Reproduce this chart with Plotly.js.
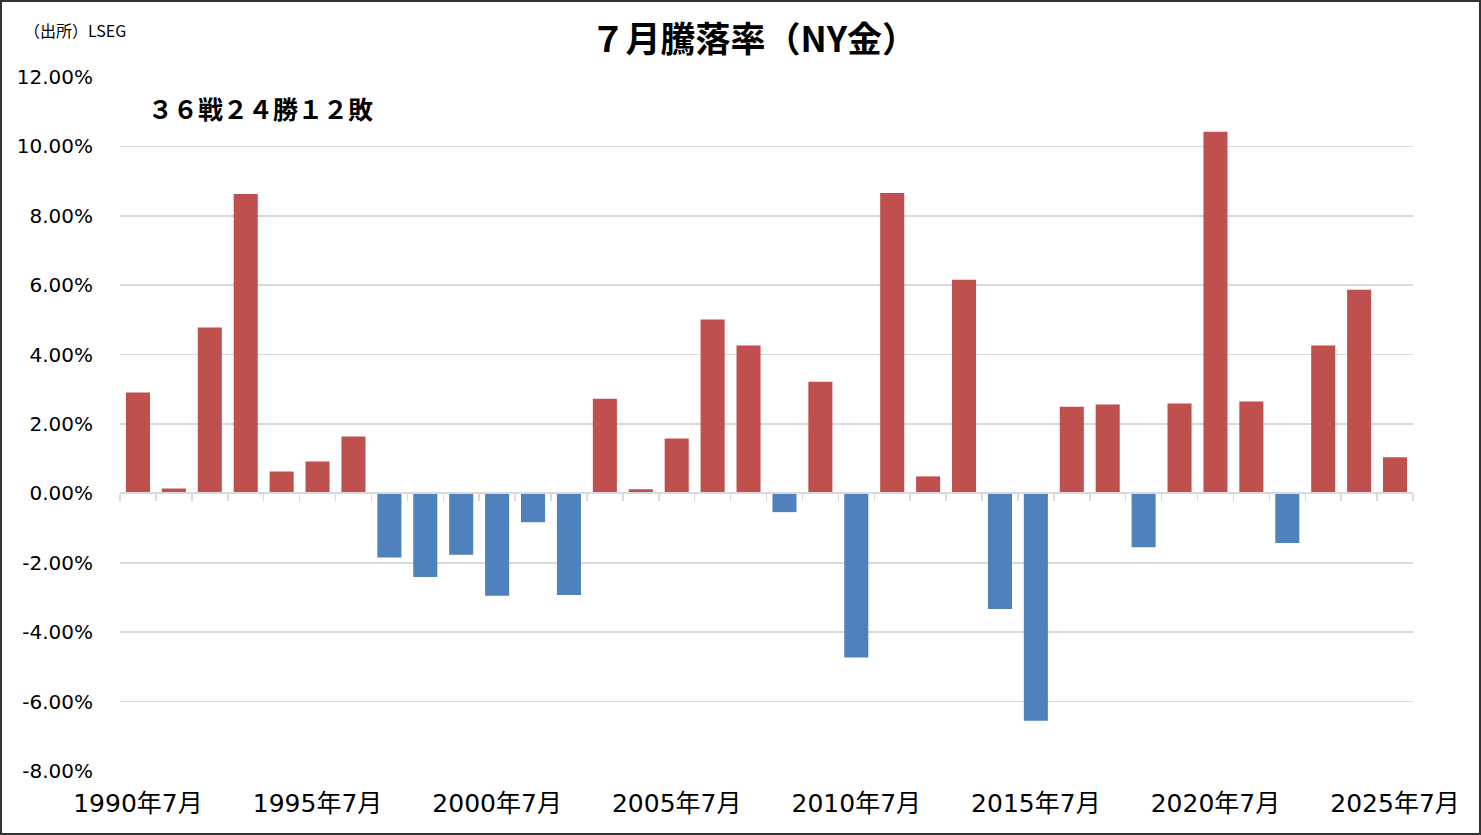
<!DOCTYPE html>
<html><head><meta charset="utf-8">
<script src="https://cdn.plot.ly/plotly-3.0.1.min.js"></script>
<style>
html,body{margin:0;padding:0;background:#fff;}
#wrap{position:relative;width:1481px;height:835px;}
#chart{width:1481px;height:835px;}
#frame{position:absolute;left:0;top:0;width:1481px;height:835px;box-sizing:border-box;border:2px solid #333;pointer-events:none;}
</style></head>
<body>
<div id="wrap"><div id="chart"></div><div id="frame"></div></div>
<script>
const years = [1990,1991,1992,1993,1994,1995,1996,1997,1998,1999,2000,2001,2002,2003,2004,2005,2006,2007,2008,2009,2010,2011,2012,2013,2014,2015,2016,2017,2018,2019,2020,2021,2022,2023,2024,2025];
const returns = [2.91,0.14,4.78,8.63,0.63,0.92,1.64,-1.85,-2.41,-1.77,-2.95,-0.83,-2.93,2.73,0.12,1.58,5.01,4.26,-0.54,3.22,-4.73,8.66,0.49,6.16,-3.33,-6.55,2.50,2.56,-1.55,2.59,10.42,2.65,-1.43,4.26,5.87,1.04];
const labelYears = [1990,1995,2000,2005,2010,2015,2020,2025];
const categories = years.map(y => y + '年7月');
const labelCats = labelYears.map(y => y + '年7月');
const yTicks = [-8,-6,-4,-2,0,2,4,6,8,10,12];
const yTickText = yTicks.map(v => v.toFixed(2) + '%');
const chartTitle = '７月騰落率（NY金）';
const sourceText = '（出所）LSEG';
const recordText = '３６戦２４勝１２敗';

const RED = '#C0504D', BLUE = '#4F81BD';
const CJK = '"Noto Sans CJK JP", sans-serif';
const NUM = '"DejaVu Sans", "Noto Sans CJK JP", sans-serif';

const bars = {
  type: 'bar', x: categories, y: returns, xaxis: 'x', yaxis: 'y',
  marker: {color: returns.map(v => v >= 0 ? RED : BLUE), line: {width: 0}},
  hoverinfo: 'x+y'
};
const tickHelper = {
  type: 'scatter', mode: 'none', x: categories, y: returns, xaxis: 'x2', yaxis: 'y',
  hoverinfo: 'skip', showlegend: false
};

const layout = {
  width: 1481, height: 835,
  margin: {l: 120, r: 68, t: 77, b: 64},
  paper_bgcolor: '#fff', plot_bgcolor: '#fff',
  showlegend: false, bargap: 0.33,
  font: {family: CJK, color: '#000'},
  title: {text: chartTitle, font: {family: CJK, size: 35, color: '#000', weight: 'bold'},
          x: 0.509, xanchor: 'center', y: 0.952, yanchor: 'middle'},
  xaxis: {
    type: 'category', categoryorder: 'array', categoryarray: categories,
    range: [-0.5, 35.5], tickmode: 'array', tickvals: labelCats, ticktext: labelCats,
    showgrid: false, showline: false, zeroline: false, ticks: '',
    tickfont: {family: NUM, size: 25, color: '#000'}, ticklabelstandoff: 15,
    fixedrange: true
  },
  xaxis2: {
    type: 'category', categoryorder: 'array', categoryarray: categories,
    range: [-0.5, 35.5], overlaying: 'x', anchor: 'free', position: 0.4,
    showticklabels: false, showgrid: false, zeroline: false,
    showline: true, linecolor: '#d9d9d9', linewidth: 2,
    ticks: 'outside', tickson: 'boundaries', ticklen: 7, tickcolor: '#d9d9d9', tickwidth: 1.5
  },
  yaxis: {
    range: [-8, 12], tickmode: 'array', tickvals: yTicks, ticktext: yTickText,
    showgrid: true, gridcolor: '#d9d9d9', gridwidth: 1.5, zeroline: false,
    showline: false, ticks: '',
    tickfont: {family: NUM, size: 20, color: '#000'}, ticklabelstandoff: 26,
    fixedrange: true
  },
  annotations: [
    {text: sourceText, xref: 'paper', yref: 'paper', x: -0.076, y: 1.068, xanchor: 'left', yanchor: 'middle',
     showarrow: false, font: {family: CJK, size: 16, color: '#000'}},
    {text: recordText, xref: 'paper', yref: 'paper', x: 0.02, y: 0.955, xanchor: 'left', yanchor: 'middle',
     showarrow: false, font: {family: CJK, size: 25, color: '#000', weight: 'bold'}}
  ]
};
Plotly.newPlot('chart', [bars, tickHelper], layout, {displayModeBar: false, staticPlot: true});
</script>
</body></html>
